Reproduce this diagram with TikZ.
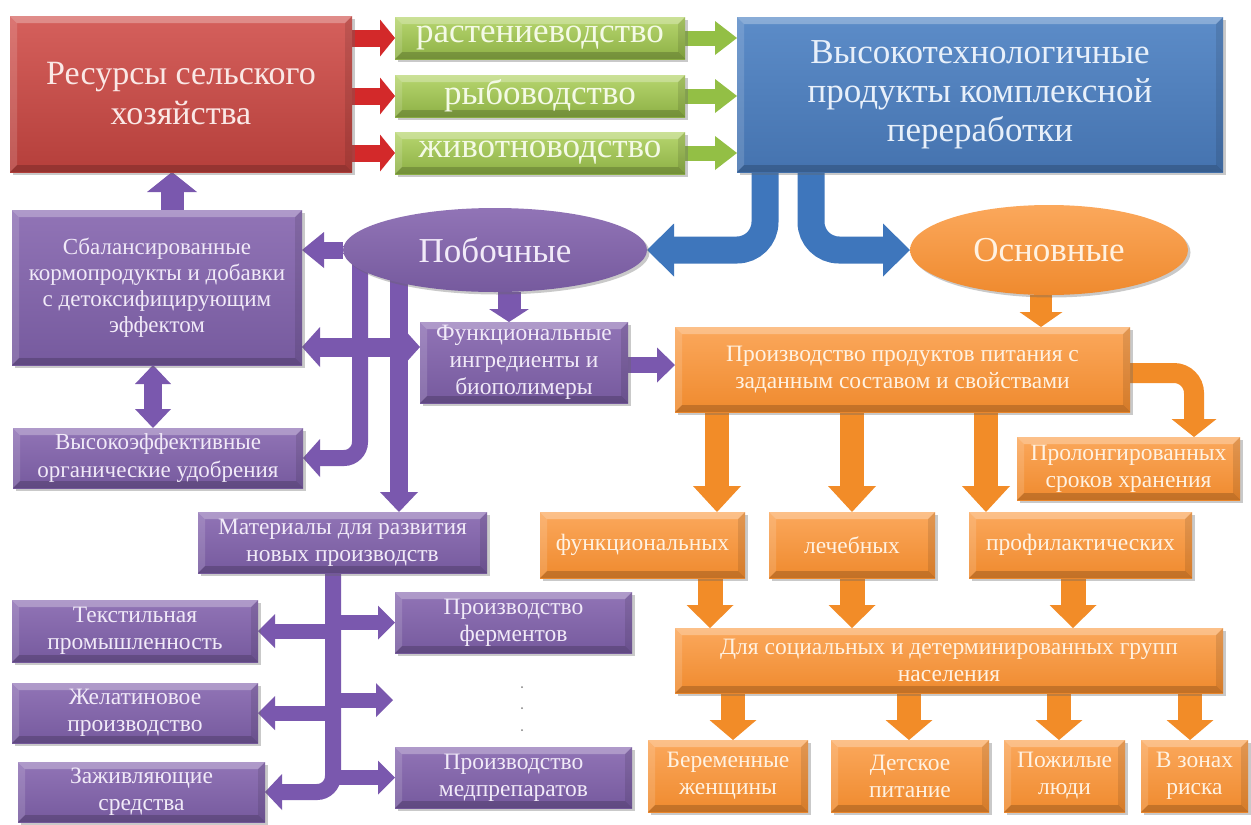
\documentclass[tikz,border=0pt]{standalone}
\usepackage{fontspec}
\setmainfont{Liberation Serif}
\usetikzlibrary{arrows.meta,shapes.geometric,shadows}
\pgfdeclarelayer{back}\pgfdeclarelayer{bg}
\pgfsetlayers{back,bg,main}
\definecolor{redT}{HTML}{D5605C}\definecolor{redB}{HTML}{B53F3B}\definecolor{redtx}{HTML}{FAE8E6}
\definecolor{redar}{HTML}{D3292A}
\definecolor{grnT}{HTML}{B7D66F}\definecolor{grnB}{HTML}{8DB045}\definecolor{grntx}{HTML}{F4FAE6}
\definecolor{grnar}{HTML}{93BF45}
\definecolor{bluT}{HTML}{5C8CC8}\definecolor{bluB}{HTML}{4573AF}\definecolor{blutx}{HTML}{E8F0FA}
\definecolor{bluar}{HTML}{3E76BC}
\definecolor{purT}{HTML}{9174B6}\definecolor{purB}{HTML}{765A9E}\definecolor{purtx}{HTML}{F1EAF8}
\definecolor{purar}{HTML}{7A58AE}
\definecolor{orgT}{HTML}{FBA85C}\definecolor{orgB}{HTML}{EF8A2E}\definecolor{orgtx}{HTML}{FFF2E2}
\definecolor{orgar}{HTML}{F28C28}
\tikzset{
 bevel/.style={path picture={
  \coordinate (bvA) at (path picture bounding box.north west);
  \coordinate (bvB) at (path picture bounding box.north east);
  \coordinate (bvC) at (path picture bounding box.south east);
  \coordinate (bvD) at (path picture bounding box.south west);
  \fill[white,opacity=.28] (bvA) -- (bvB) -- ([shift={(-7pt,-7pt)}]bvB) -- ([shift={(7pt,-7pt)}]bvA) -- cycle;
  \fill[white,opacity=.14] (bvA) -- ([shift={(7pt,-7pt)}]bvA) -- ([shift={(7pt,7pt)}]bvD) -- (bvD) -- cycle;
  \fill[black,opacity=.18] (bvD) -- (bvC) -- ([shift={(-7pt,7pt)}]bvC) -- ([shift={(7pt,7pt)}]bvD) -- cycle;
  \fill[black,opacity=.10] (bvB) -- (bvC) -- ([shift={(-7pt,7pt)}]bvC) -- ([shift={(-7pt,-7pt)}]bvB) -- cycle;
 }},
 shad/.style={drop shadow={shadow xshift=2.5pt,shadow yshift=-2.5pt,opacity=.35,fill=black!60}},
 boxbase/.style={rectangle,inner sep=0pt,outer sep=0pt,align=center,bevel,shad},
 bigtxt/.style={font=\fontsize{35}{39}\selectfont},
 smtxt/.style={font=\fontsize{23.5}{27}\selectfont},
 redbox/.style={boxbase,top color=redT,bottom color=redB,text=redtx},
 grnbox/.style={boxbase,top color=grnT,bottom color=grnB,text=grntx},
 blubox/.style={boxbase,top color=bluT,bottom color=bluB,text=blutx},
 purbox/.style={boxbase,top color=purT,bottom color=purB,text=purtx},
 orgbox/.style={boxbase,top color=orgT,bottom color=orgB,text=orgtx},
 ell/.style={ellipse,inner sep=0pt,outer sep=0pt,shad},
 fa/.style n args={3}{line width=#1,-{Triangle[length=#2,width=#3,line width=0pt]}},
 fad/.style n args={3}{line width=#1,{Triangle[length=#2,width=#3,line width=0pt]}-{Triangle[length=#2,width=#3,line width=0pt]}},
}
\begin{document}
\begin{tikzpicture}[x=1pt,y=-1pt]
\begin{pgfonlayer}{back}
\fill[white] (0,0) rectangle (1251,825);
\end{pgfonlayer}
\useasboundingbox (0,0) rectangle (1251,825);
% ---- top row
\node[redbox,minimum width=342pt,minimum height=156pt,font=\fontsize{34}{40}\selectfont] (res) at (181,94) {Ресурсы сельского\\хозяйства};
\node[grnbox,minimum width=290pt,minimum height=42pt,bigtxt] (plant) at (540,38) {растениеводство};
\node[grnbox,minimum width=290pt,minimum height=42pt,bigtxt] (fish) at (540,96) {рыбоводство};
\node[grnbox,minimum width=290pt,minimum height=42pt,bigtxt] (anim) at (540,153) {животноводство};
\node[blubox,minimum width=486pt,minimum height=155pt,bigtxt] (blue) at (980,94.5) {Высокотехнологичные\\продукты комплексной\\переработки};
% ---- purple part
\node[ell,minimum width=304pt,minimum height=84pt,top color=purT,bottom color=purB,text=purtx,bigtxt] (pob) at (495,250) {Побочные};
\node[purbox,minimum width=290pt,minimum height=155pt,font=\fontsize{23}{26}\selectfont] (feed) at (157,287.5) {Сбалансированные\\кормопродукты и добавки\\с детоксифицирующим\\эффектом};
\node[purbox,minimum width=290pt,minimum height=60pt,font=\fontsize{23}{28}\selectfont] (fert) at (158,458) {Высокоэффективные\\органические удобрения};
\node[purbox,minimum width=208pt,minimum height=81pt,smtxt] (func) at (524,362.5) {Функциональные\\ингредиенты и\\биополимеры};
\node[purbox,minimum width=289pt,minimum height=61pt,smtxt] (mat) at (342.5,542.5) {Материалы для развития\\новых производств};
\node[purbox,minimum width=246pt,minimum height=62pt,smtxt] (text) at (135,631) {Текстильная\\промышленность};
\node[purbox,minimum width=246pt,minimum height=60pt,smtxt] (gel) at (135,713) {Желатиновое\\производство};
\node[purbox,minimum width=247pt,minimum height=60pt,smtxt] (heal) at (141.5,792) {Заживляющие\\средства};
\node[purbox,minimum width=237pt,minimum height=61pt,smtxt] (enz) at (513.5,622.5) {Производство\\ферментов};
\node[purbox,minimum width=237pt,minimum height=61pt,smtxt] (med) at (513.5,777.5) {Производство\\медпрепаратов};
\fill[gray] (522,687) circle (1pt) (522,708) circle (1pt) (522,730) circle (1pt);
% ---- orange part
\node[ell,minimum width=278pt,minimum height=90pt,top color=orgT,bottom color=orgB,text=orgtx,bigtxt] (osn) at (1049,250) {Основные};
\node[orgbox,minimum width=455pt,minimum height=85pt,smtxt] (prod) at (902.5,369.5) {Производство продуктов питания с\\заданным составом и свойствами};
\node[orgbox,minimum width=223pt,minimum height=63pt,smtxt] (prol) at (1128.5,468.5) {Пролонгированных\\сроков хранения};
\node[orgbox,minimum width=205pt,minimum height=66pt,smtxt] (f1) at (642.5,545) {функциональных};
\node[orgbox,minimum width=166pt,minimum height=66pt,smtxt] (f2) at (852,545) {лечебных};
\node[orgbox,minimum width=223pt,minimum height=66pt,smtxt] (f3) at (1080.5,545) {профилактических};
\node[orgbox,minimum width=548pt,minimum height=65pt,smtxt] (grp) at (949,660.5) {Для социальных и детерминированных групп\\населения};
\node[orgbox,minimum width=160pt,minimum height=72pt,smtxt] (b1) at (728,776) {Беременные\\женщины};
\node[orgbox,minimum width=158pt,minimum height=72pt,smtxt] (b2) at (910,776) {Детское\\питание};
\node[orgbox,minimum width=121pt,minimum height=72pt,smtxt] (b3) at (1064.5,776) {Пожилые\\люди};
\node[orgbox,minimum width=107pt,minimum height=72pt,smtxt] (b4) at (1194.5,776) {В зонах\\риска};
% ---- helper coordinates
\coordinate (xa) at (172,0); \coordinate (xb) at (153,0);
\coordinate (sa) at (360,262); \coordinate (sb) at (399,262);
\coordinate (hy) at (0,347); \coordinate (xc) at (509,0); \coordinate (yd) at (0,365);
\coordinate (xs) at (333,0); \coordinate (ey) at (393,700);
\coordinate (bl) at (765,0); \coordinate (br) at (811,0);
\coordinate (xo) at (1041,0); \coordinate (py) at (0,373); \coordinate (px) at (1194,0);
\coordinate (d1) at (717,0); \coordinate (d2) at (852,0); \coordinate (d3) at (986,0);
\coordinate (e1) at (710,0); \coordinate (e2) at (852,0); \coordinate (e3) at (1073,0);
\coordinate (g1) at (733,0); \coordinate (g2) at (909,0); \coordinate (g3) at (1059,0); \coordinate (g4) at (1190,0);
\begin{pgfonlayer}{bg}
% red and green arrows
\foreach \n in {plant,fish,anim}{
 \draw[redar,fa={17pt}{15pt}{37pt}] (res.east |- \n) -- (\n.west);
 \draw[grnar,fa={15pt}{22pt}{34pt}] (\n.east) -- (\n.east -| blue.west);
}
% blue bent arrows
\draw[bluar,fa={27pt}{27pt}{53pt},rounded corners=28pt] (bl |- blue.south) |- (pob.east);
\draw[bluar,fa={27pt}{27pt}{53pt},rounded corners=28pt] (br |- blue.south) |- (osn.west);
% purple arrows
\draw[purar,fa={23pt}{20pt}{50pt}] (feed.north -| xa) -- (res.south -| xa);
\draw[purar,fad={18pt}{19pt}{36pt}] (feed.south -| xb) -- (fert.north -| xb);
\draw[purar,fa={17pt}{22pt}{36pt}] (pob.west) -- (feed.east |- pob.west);
\draw[purar,fa={16pt}{17pt}{38pt},rounded corners=16pt] (sa) |- (fert.east);
\draw[purar,fa={18pt}{20pt}{38pt}] (sb) -- (sb |- mat.north);
\draw[purar,fad={19pt}{18pt}{40pt}] (feed.east |- hy) -- (func.west |- hy);
\draw[purar,fa={23pt}{13pt}{40pt}] (pob.south -| xc) -- (func.north -| xc);
\draw[purar,fa={16pt}{18pt}{35pt}] (func.east |- yd) -- (prod.west |- yd);
\draw[purar,fa={16pt}{17pt}{36pt},rounded corners=16pt] (mat.south -| xs) |- (heal.east);
\draw[purar,fa={15pt}{17pt}{34pt}] (xs |- text.east) -- (text.east);
\draw[purar,fa={15pt}{17pt}{34pt}] (xs |- gel.east) -- (gel.east);
\draw[purar,fa={15pt}{17pt}{34pt}] (xs |- enz.west) -- (enz.west);
\draw[purar,fa={15pt}{17pt}{34pt}] (xs |- ey) -- (ey);
\draw[purar,fa={15pt}{17pt}{34pt}] (xs |- med.west) -- (med.west);
% orange arrows
\draw[orgar,fa={22pt}{15pt}{43pt}] (osn.south -| xo) -- (prod.north -| xo);
\draw[orgar,fa={20pt}{18pt}{45pt},rounded corners=20pt] (prod.east |- py) -| (prol.north -| px);
\draw[orgar,fa={24pt}{26pt}{48pt}] (prod.south -| d1) -- (f1.north -| d1);
\draw[orgar,fa={24pt}{26pt}{48pt}] (prod.south -| d2) -- (f2.north -| d2);
\draw[orgar,fa={24pt}{26pt}{48pt}] (prod.south -| d3) -- (f3.north -| d3);
\draw[orgar,fa={25pt}{23pt}{47pt}] (f1.south -| e1) -- (grp.north -| e1);
\draw[orgar,fa={25pt}{23pt}{47pt}] (f2.south -| e2) -- (grp.north -| e2);
\draw[orgar,fa={25pt}{23pt}{47pt}] (f3.south -| e3) -- (grp.north -| e3);
\draw[orgar,fa={24pt}{20pt}{47pt}] (grp.south -| g1) -- (b1.north -| g1);
\draw[orgar,fa={24pt}{20pt}{47pt}] (grp.south -| g2) -- (b2.north -| g2);
\draw[orgar,fa={24pt}{20pt}{47pt}] (grp.south -| g3) -- (b3.north -| g3);
\draw[orgar,fa={24pt}{20pt}{47pt}] (grp.south -| g4) -- (b4.north -| g4);
\end{pgfonlayer}
\end{tikzpicture}
\end{document}
